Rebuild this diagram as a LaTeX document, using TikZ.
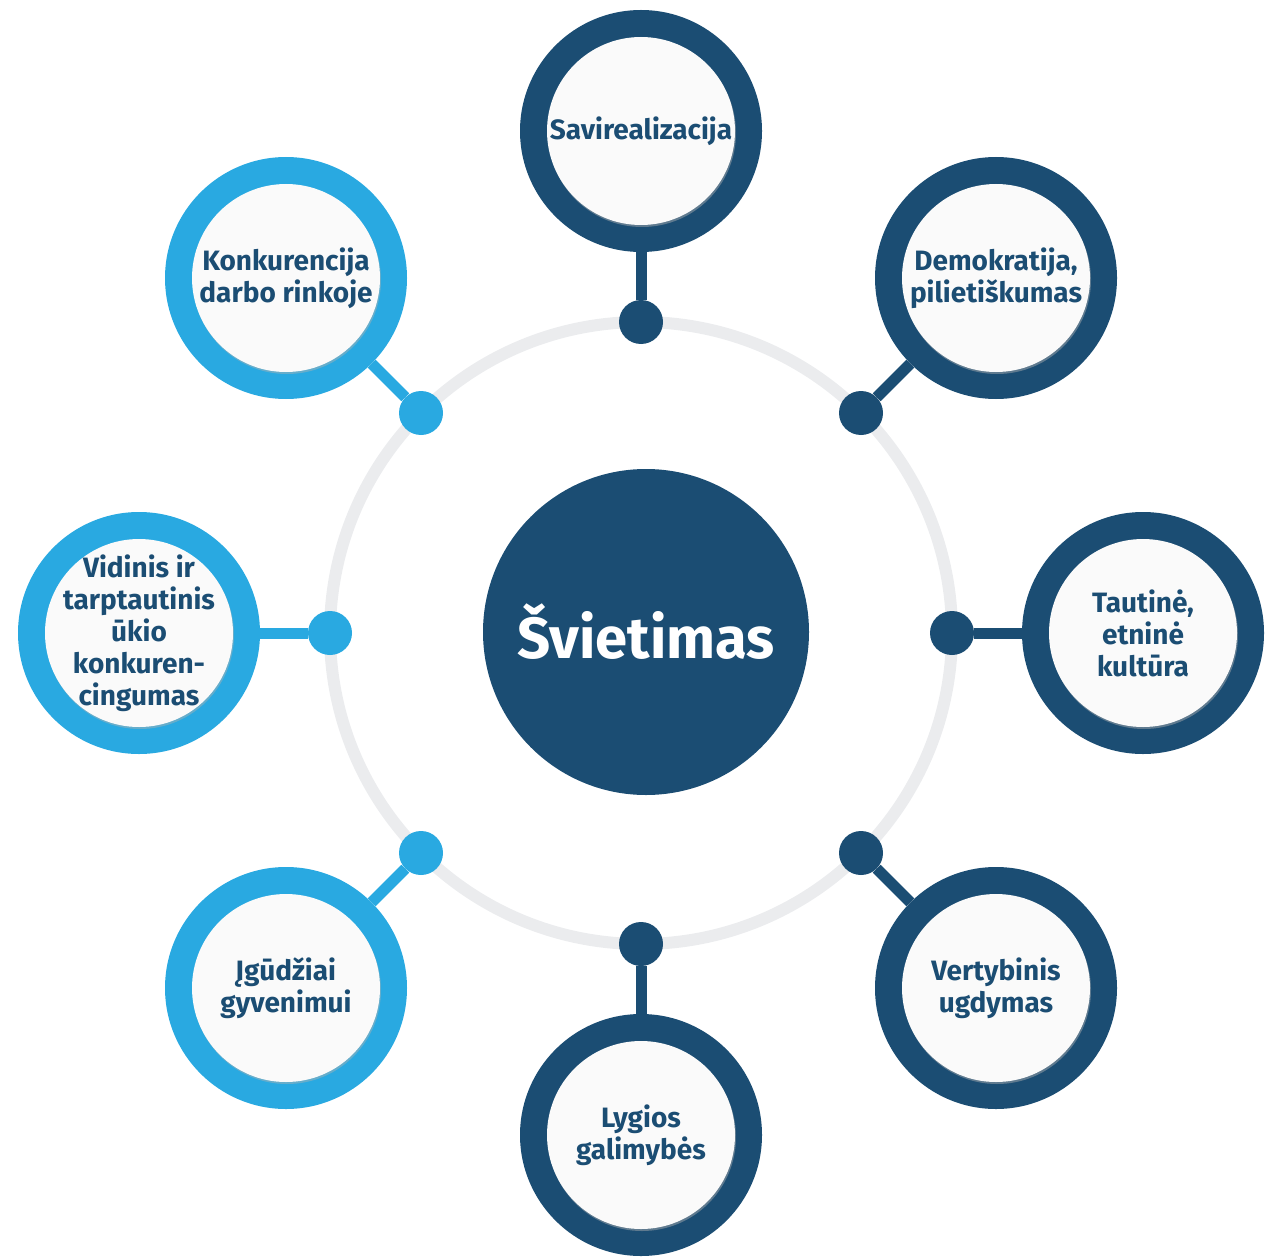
\documentclass[tikz,border=0pt]{standalone}
\usepackage{fontspec}
\setmainfont{Fira Sans}
\usetikzlibrary{shadows}

\definecolor{navy}{HTML}{1B4D73}
\definecolor{sky}{HTML}{29A9E1}
\definecolor{ringgray}{HTML}{EBECEE}
\definecolor{facewhite}{HTML}{FAFAFA}

\tikzset{
  navyring/.style={circle, fill=navy, minimum size=242pt, inner sep=0pt},
  skyring/.style={circle, fill=sky, minimum size=242pt, inner sep=0pt},
  face/.style={circle, fill=facewhite, minimum size=188pt, inner sep=-30pt,
    align=center, text=navy, font=\fontsize{28}{32}\selectfont\bfseries,
    drop shadow={shadow xshift=1pt, shadow yshift=-2pt,
      fill=black!30, opacity=0.45}},
  navydot/.style={circle, fill=navy, minimum size=44pt, inner sep=0pt},
  skydot/.style={circle, fill=sky, minimum size=44pt, inner sep=0pt},
  navystem/.style={draw=navy, line width=11pt},
  skystem/.style={draw=sky, line width=11pt}
}

\begin{document}
\begin{tikzpicture}[x=1pt, y=-1pt]
  \useasboundingbox (0, 0) rectangle (1279, 1257);

  % Ring
  \coordinate (hub) at (641, 633);
  \draw [ringgray, line width=12pt] (hub) circle (311);

  % Centre
  \node [circle, fill=navy, minimum size=326pt, inner sep=0pt, text=white,
    font=\fontsize{58}{62}\selectfont\bfseries] (svietimas) at (646, 632)
    {Švietimas};

  % Dots on the ring
  \node [navydot] (d-savi) at (641, 322) {};
  \node [navydot] (d-demo) at (861, 413) {};
  \node [navydot] (d-taut) at (952, 633) {};
  \node [navydot] (d-vert) at (861, 853) {};
  \node [navydot] (d-lygi) at (641, 944) {};
  \node [skydot] (d-igud) at (421, 853) {};
  \node [skydot] (d-vidi) at (330, 633) {};
  \node [skydot] (d-konk) at (421, 413) {};

  % Savirealizacija
  \node [navyring] (savi) at (641, 131) {};
  \node [face] (savi-t) at (savi) {Savirealizacija};
  \draw [navystem] (savi) -- (d-savi);

  % Demokratija
  \node [navyring] (demo) at (996, 278) {};
  \node [face] (demo-t) at (demo) {Demokratija,\\pilietiškumas};
  \draw [navystem] (demo) -- (d-demo);

  % Tautine kultura
  \node [navyring] (taut) at (1143, 633) {};
  \node [face] (taut-t) at (taut) {Tautinė,\\etninė\\kultūra};
  \draw [navystem] (taut) -- (d-taut);

  % Vertybinis ugdymas
  \node [navyring] (vert) at (996, 988) {};
  \node [face] (vert-t) at (vert) {Vertybinis\\ugdymas};
  \draw [navystem] (vert) -- (d-vert);

  % Lygios galimybes
  \node [navyring] (lygi) at (641, 1135) {};
  \node [face] (lygi-t) at (lygi) {Lygios\\galimybės};
  \draw [navystem] (lygi) -- (d-lygi);

  % Igudziai gyvenimui
  \node [skyring] (igud) at (286, 988) {};
  \node [face] (igud-t) at (igud) {Įgūdžiai\\gyvenimui};
  \draw [skystem] (igud) -- (d-igud);

  % Vidinis ir tarptautinis
  \node [skyring] (vidi) at (139, 633) {};
  \node [face] (vidi-t) at (vidi)
    {Vidinis ir\\tarptautinis\\ūkio\\konkuren-\\cingumas};
  \draw [skystem] (vidi) -- (d-vidi);

  % Konkurencija
  \node [skyring] (konk) at (286, 278) {};
  \node [face] (konk-t) at (konk) {Konkurencija\\darbo rinkoje};
  \draw [skystem] (konk) -- (d-konk);
\end{tikzpicture}
\end{document}
